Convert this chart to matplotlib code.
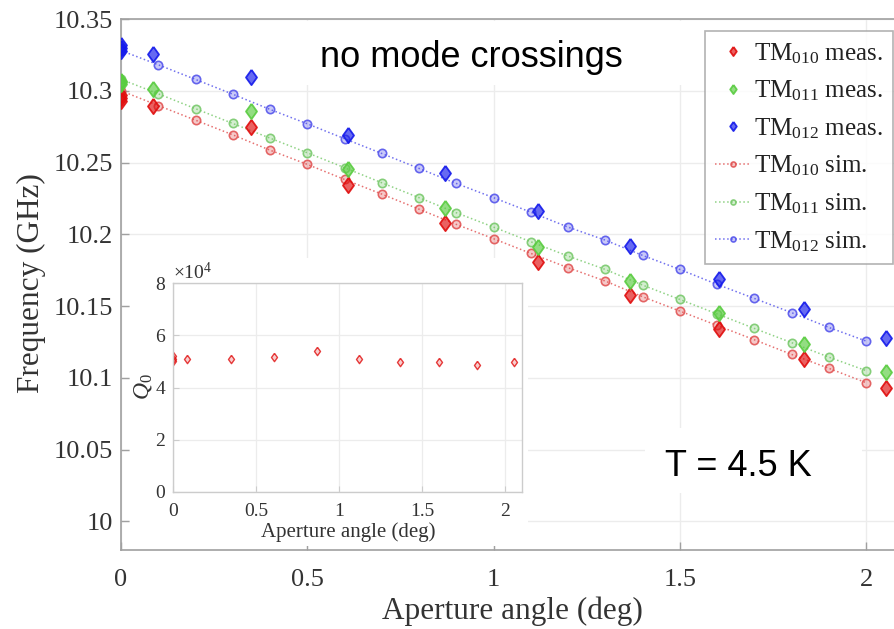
import matplotlib
matplotlib.use('Agg')
import matplotlib.pyplot as plt
from matplotlib.patches import Rectangle
from matplotlib.ticker import FormatStrFormatter

plt.rcParams['font.family'] = ['Liberation Serif', 'DejaVu Serif']
plt.rcParams['mathtext.fontset'] = 'custom'
plt.rcParams['mathtext.rm'] = 'Liberation Serif'
plt.rcParams['mathtext.it'] = 'Liberation Serif:italic'
plt.rcParams['mathtext.bf'] = 'Liberation Serif:bold'

# ---------------- data ----------------
meas_x = [0, 0, 0, 0.087, 0.35, 0.61, 0.87, 1.12, 1.366, 1.605, 1.834, 2.054]
tm010_meas = [10.297, 10.295, 10.293, 10.2897, 10.2746, 10.234, 10.2076, 10.1809, 10.1576, 10.1342, 10.1128, 10.0931]
tm011_meas = [10.307, 10.306, 10.305, 10.3014, 10.2856, 10.2452, 10.2185, 10.1913, 10.1674, 10.1453, 10.1233, 10.104]
tm012_meas = [10.332, 10.330, 10.328, 10.3253, 10.3097, 10.2689, 10.2429, 10.2161, 10.1917, 10.169, 10.1481, 10.128]

sim_x = [0.0, 0.1, 0.2, 0.3, 0.4, 0.5, 0.6, 0.7, 0.8, 0.9, 1.0,
         1.1, 1.2, 1.3, 1.4, 1.5, 1.6, 1.7, 1.8, 1.9, 2.0]
tm010_sim = [10.300, 10.2897, 10.2795, 10.2693, 10.2586, 10.2487, 10.2382, 10.228, 10.2175, 10.2069, 10.1969,
             10.1867, 10.1767, 10.1674, 10.1565, 10.1465, 10.1365, 10.1265, 10.1163, 10.1066, 10.0966]
tm011_sim = [10.308, 10.2979, 10.2875, 10.2772, 10.267, 10.2568, 10.2464, 10.2359, 10.2255, 10.215, 10.205,
             10.1948, 10.1848, 10.1755, 10.1646, 10.1546, 10.1445, 10.1344, 10.1245, 10.1144, 10.105]
tm012_sim = [10.328, 10.3181, 10.3079, 10.2976, 10.287, 10.277, 10.2666, 10.2563, 10.2459, 10.2354, 10.2255,
             10.2154, 10.205, 10.1959, 10.1853, 10.1755, 10.1651, 10.1553, 10.1454, 10.1351, 10.1256]

q_x = [0, 0, 0, 0.086, 0.348, 0.609, 0.867, 1.117, 1.363, 1.60, 1.83, 2.05]
q0 = [52000, 51000, 50000, 50800, 50800, 51800, 53800, 50800, 49900, 49900, 48800, 49900]

x_ticks = [0, 0.5, 1, 1.5, 2]
y_ticks = [10, 10.05, 10.1, 10.15, 10.2, 10.25, 10.3, 10.35]
inset_x_ticks = [0, 0.5, 1, 1.5, 2]
inset_y_ticks = [0, 20000, 40000, 60000, 80000]

labels_meas = [r'TM$_{010}$ meas.', r'TM$_{011}$ meas.', r'TM$_{012}$ meas.']
labels_sim = [r'TM$_{010}$ sim.', r'TM$_{011}$ sim.', r'TM$_{012}$ sim.']

# ---------------- styling ----------------
W, H = 894, 629
RED = (0.88, 0.05, 0.05)
GREEN = (0.35, 0.80, 0.25)
BLUE = (0.08, 0.10, 0.92)
SIM_RED = (0.88, 0.30, 0.30)
SIM_GREEN = (0.45, 0.78, 0.40)
SIM_BLUE = (0.30, 0.30, 0.92)
SPINE = '#a0a0a0'
TICKTXT = '#333333'
GRID = '#ececec'
diamond = [(0, 1), (0.72, 0), (0, -1), (-0.72, 0), (0, 1)]

fig = plt.figure(figsize=(W / 100, H / 100), dpi=100)
ax = fig.add_axes([121 / W, 79 / H, 773 / W, 531 / H])

def fig_rect(x0, y0, x1, y1, z):
    r = Rectangle((x0 / W, 1 - y1 / H), (x1 - x0) / W, (y1 - y0) / H,
                  transform=fig.transFigure, facecolor='white', edgecolor='none',
                  zorder=z, clip_on=False)
    ax.add_patch(r)

# simulated
for ys, c, lab in zip([tm010_sim, tm011_sim, tm012_sim], [SIM_RED, SIM_GREEN, SIM_BLUE], labels_sim):
    ax.plot(sim_x, ys, linestyle=':', linewidth=1.1, color=c + (0.8,),
            marker='o', markersize=6, markeredgewidth=1.2,
            markeredgecolor=c + (0.85,), markerfacecolor=c + (0.3,), label=lab, zorder=3)

# measured
for ys, c, lab in zip([tm010_meas, tm011_meas, tm012_meas], [RED, GREEN, BLUE], labels_meas):
    ax.plot(meas_x, ys, linestyle='none', marker=diamond, markersize=11,
            markeredgewidth=1.3, markeredgecolor=c + (0.9,), markerfacecolor=c + (0.65,),
            label=lab, zorder=4)

ax.set_xlim(0, 2.075)
ax.set_ylim(9.98, 10.35)
ax.set_xticks(x_ticks)
ax.set_yticks(y_ticks)
ax.xaxis.set_major_formatter(FormatStrFormatter('%g'))
ax.yaxis.set_major_formatter(FormatStrFormatter('%g'))
ax.tick_params(direction='in', length=6, width=1, colors=SPINE, labelcolor=TICKTXT, labelsize=19)
ax.tick_params(axis='x', pad=14)
ax.tick_params(axis='y', pad=6)
ax.grid(True, color=GRID, linewidth=1)
ax.set_axisbelow(True)
for s in ['left', 'bottom', 'top']:
    ax.spines[s].set_color(SPINE)
    ax.spines[s].set_linewidth(1.2)
ax.spines['right'].set_visible(False)

ax.set_xlabel('Aperture angle (deg)', fontsize=22.5, color=TICKTXT)
ax.xaxis.set_label_coords((512 - 121) / 773, (550 - 611) / 531)
ax.xaxis.label.set_va('center')
ax.set_ylabel('Frequency (GHz)', fontsize=22.5, color=TICKTXT)
ax.yaxis.set_label_coords((31 - 121) / 773, (550 - 283) / 531)
ax.yaxis.label.set_va('center')

# white boxes behind annotations and inset
fig_rect(298, 21, 692, 85, 1.6)
fig_rect(645, 428, 862, 493, 1.6)
fig_rect(130, 258, 528, 546, 6)

ax.text((320 - 121) / 773, (550 - 66.7) / 531, 'no mode crossings', transform=ax.transAxes,
        family='Liberation Sans', fontsize=26, ha='left', va='baseline', color='black', zorder=7)
ax.text((665 - 121) / 773, (550 - 475.7) / 531, 'T = 4.5 K', transform=ax.transAxes,
        family='Liberation Sans', fontsize=26, ha='left', va='baseline', color='black', zorder=7)

handles, labels = ax.get_legend_handles_labels()
order = [3, 4, 5, 0, 1, 2]
leg = fig.legend([handles[i] for i in order], [labels[i] for i in order],
                 loc='upper right', bbox_to_anchor=(893 / W, 1 - 31 / H), borderaxespad=0,
                 fontsize=18, frameon=True, fancybox=False, edgecolor='#a0a0a0',
                 handlelength=1.4, handletextpad=0.15, labelspacing=0.52, borderpad=0.4,
                 markerscale=0.6)
leg.get_frame().set_linewidth(1.2)
for t in leg.get_texts():
    t.set_color('#222222')

# ---------------- inset ----------------
ax2 = fig.add_axes([173 / W, 137 / H, 349 / W, 209 / H], zorder=5)
ax2.plot(q_x, q0, linestyle='none', marker=diamond, markersize=6, markeredgewidth=1.0,
         markeredgecolor=RED + (0.8,), markerfacecolor=RED + (0.2,))
ax2.set_xlim(0, 2.1)
ax2.set_ylim(0, 80000)
ax2.set_xticks(inset_x_ticks)
ax2.set_yticks(inset_y_ticks)
ax2.xaxis.set_major_formatter(FormatStrFormatter('%g'))
ax2.ticklabel_format(axis='y', style='sci', scilimits=(0, 0), useMathText=True)
ax2.yaxis.get_offset_text().set_fontsize(14)
ax2.yaxis.get_offset_text().set_color(TICKTXT)
ax2.tick_params(direction='in', length=4, width=0.8, colors='#cccccc', labelcolor=TICKTXT, labelsize=14)
ax2.tick_params(axis='x', pad=8)
ax2.tick_params(axis='y', pad=5)
ax2.grid(True, color=GRID, linewidth=0.9)
ax2.set_axisbelow(True)
for s in ax2.spines.values():
    s.set_color('#cccccc')
    s.set_linewidth(1.0)
ax2.set_xlabel('Aperture angle (deg)', fontsize=15, color=TICKTXT)
ax2.xaxis.set_label_coords((348 - 173) / 349, (492 - 532) / 209)
ax2.xaxis.label.set_va('center')
ax2.set_ylabel(r'$Q_0$', fontsize=17, color=TICKTXT)
ax2.yaxis.set_label_coords((143 - 173) / 349, (492 - 387) / 209)
ax2.yaxis.label.set_va('center')

fig.savefig('out.png', dpi=100)
